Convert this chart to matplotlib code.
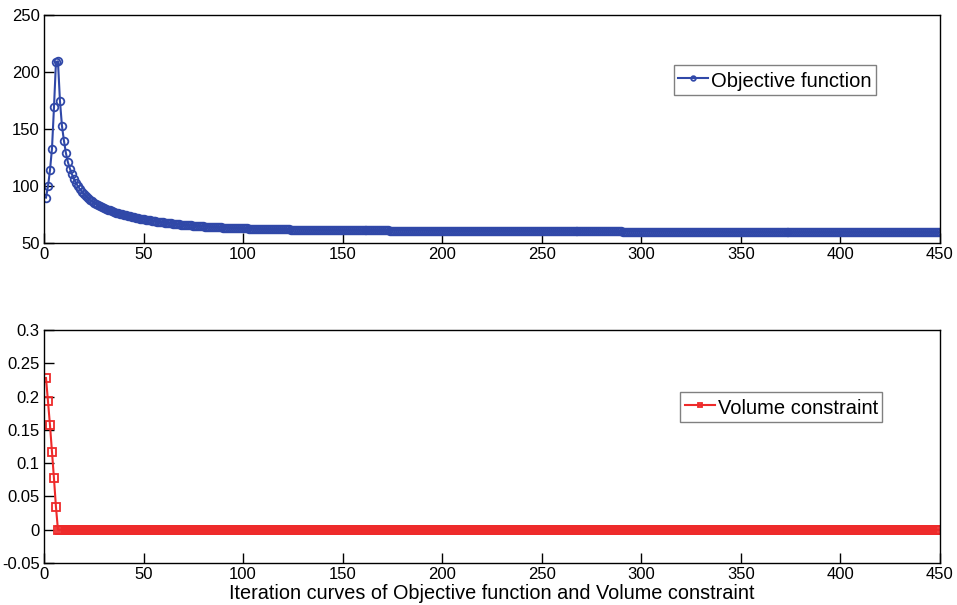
import matplotlib
matplotlib.use("Agg")
import matplotlib.pyplot as plt
import numpy as np

plt.rcParams['font.family'] = ['Liberation Sans', 'DejaVu Sans']

# Objective function value per iteration (1..450)
objective = [
    90.0, 100.0, 114.0, 133.0, 169.0, 209.0, 209.5, 175.0, 153.0, 140.0,
    129.0, 121.0, 115.5, 110.5, 106.5, 103.0, 100.0, 97.5, 95.0, 93.0,
    91.2, 89.6, 88.1, 86.8, 85.6, 84.5, 83.5, 82.6, 81.7, 80.9,
    80.1, 79.4, 78.7, 78.1, 77.5, 76.9, 76.4, 75.9, 75.4, 74.9,
    74.4, 74.0, 73.6, 73.2, 72.8, 72.4, 72.0, 71.6, 71.3, 71.0,
    70.7, 70.4, 70.1, 69.8, 69.5, 69.2, 69.0, 68.7, 68.5, 68.2,
    68.0, 67.8, 67.6, 67.4, 67.2, 67.0, 66.8, 66.6, 66.4, 66.2,
    66.0, 65.9, 65.7, 65.6, 65.4, 65.3, 65.1, 65.0, 64.9, 64.8,
    64.6, 64.5, 64.4, 64.3, 64.2, 64.1, 64.0, 63.9, 63.8, 63.7,
    63.6, 63.5, 63.5, 63.4, 63.3, 63.2, 63.2, 63.1, 63.0, 63.0,
    62.9, 62.9, 62.8, 62.8, 62.7, 62.7, 62.6, 62.6, 62.6, 62.5,
    62.5, 62.4, 62.4, 62.4, 62.3, 62.3, 62.3, 62.2, 62.2, 62.2,
    62.1, 62.1, 62.1, 62.0, 62.0, 62.0, 62.0, 61.9, 61.9, 61.9,
    61.9, 61.8, 61.8, 61.8, 61.8, 61.7, 61.7, 61.7, 61.7, 61.7,
    61.6, 61.6, 61.6, 61.6, 61.6, 61.6, 61.6, 61.6, 61.6, 61.6,
    61.5, 61.5, 61.5, 61.5, 61.5, 61.4, 61.4, 61.4, 61.4, 61.4,
    61.3, 61.3, 61.3, 61.3, 61.3, 61.3, 61.2, 61.2, 61.2, 61.2,
    61.2, 61.2, 61.2, 61.1, 61.1, 61.1, 61.1, 61.1, 61.1, 61.1,
    61.0, 61.0, 61.0, 61.0, 61.0, 61.0, 61.0, 61.0, 61.0, 61.0,
    61.0, 61.0, 60.9, 60.9, 60.9, 60.9, 60.9, 60.9, 60.9, 60.9,
    60.8, 60.8, 60.8, 60.8, 60.8, 60.8, 60.8, 60.8, 60.8, 60.8,
    60.8, 60.8, 60.8, 60.8, 60.8, 60.7, 60.7, 60.7, 60.7, 60.7,
    60.7, 60.7, 60.7, 60.7, 60.7, 60.7, 60.7, 60.7, 60.7, 60.7,
    60.6, 60.6, 60.6, 60.6, 60.6, 60.6, 60.6, 60.6, 60.6, 60.6,
    60.6, 60.6, 60.6, 60.6, 60.6, 60.5, 60.5, 60.5, 60.5, 60.5,
    60.5, 60.5, 60.5, 60.5, 60.5, 60.5, 60.5, 60.5, 60.5, 60.5,
    60.4, 60.4, 60.4, 60.4, 60.4, 60.4, 60.4, 60.4, 60.4, 60.4,
    60.4, 60.4, 60.4, 60.4, 60.4, 60.3, 60.3, 60.3, 60.3, 60.3,
    60.3, 60.3, 60.3, 60.3, 60.3, 60.3, 60.3, 60.3, 60.3, 60.3,
    60.2, 60.2, 60.2, 60.2, 60.2, 60.2, 60.2, 60.2, 60.2, 60.2,
    60.2, 60.2, 60.2, 60.2, 60.2, 60.1, 60.1, 60.1, 60.1, 60.1,
    60.1, 60.1, 60.1, 60.1, 60.1, 60.1, 60.1, 60.1, 60.1, 60.1,
    60.0, 60.0, 60.0, 60.0, 60.0, 60.0, 60.0, 60.0, 60.0, 60.0,
    60.0, 60.0, 60.0, 60.0, 60.0, 60.0, 60.0, 60.0, 60.0, 60.0,
    59.9, 59.9, 59.9, 59.9, 59.9, 59.9, 59.9, 59.9, 59.9, 59.9,
    59.9, 59.9, 59.9, 59.9, 59.9, 59.9, 59.9, 59.9, 59.9, 59.9,
    59.9, 59.9, 59.9, 59.9, 59.9, 59.8, 59.8, 59.8, 59.8, 59.8,
    59.8, 59.8, 59.8, 59.8, 59.8, 59.8, 59.8, 59.8, 59.8, 59.8,
    59.8, 59.8, 59.8, 59.8, 59.8, 59.8, 59.8, 59.8, 59.8, 59.8,
    59.7, 59.7, 59.7, 59.7, 59.7, 59.7, 59.7, 59.7, 59.7, 59.7,
    59.7, 59.7, 59.7, 59.7, 59.7, 59.7, 59.7, 59.7, 59.7, 59.7,
    59.7, 59.7, 59.7, 59.7, 59.7, 59.7, 59.7, 59.7, 59.7, 59.7,
    59.6, 59.6, 59.6, 59.6, 59.6, 59.6, 59.6, 59.6, 59.6, 59.6,
    59.6, 59.6, 59.6, 59.6, 59.6, 59.6, 59.6, 59.6, 59.6, 59.6,
    59.6, 59.6, 59.6, 59.6, 59.6, 59.6, 59.6, 59.6, 59.6, 59.6,
]

# Volume constraint value per iteration (1..450)
volume = [
    0.228, 0.193, 0.157, 0.117, 0.077, 0.034, 0, 0, 0, 0,
    0, 0, 0, 0, 0, 0, 0, 0, 0, 0, 0, 0, 0, 0, 0, 0, 0, 0, 0, 0,
    0, 0, 0, 0, 0, 0, 0, 0, 0, 0, 0, 0, 0, 0, 0, 0, 0, 0, 0, 0,
    0, 0, 0, 0, 0, 0, 0, 0, 0, 0, 0, 0, 0, 0, 0, 0, 0, 0, 0, 0,
    0, 0, 0, 0, 0, 0, 0, 0, 0, 0, 0, 0, 0, 0, 0, 0, 0, 0, 0, 0,
    0, 0, 0, 0, 0, 0, 0, 0, 0, 0, 0, 0, 0, 0, 0, 0, 0, 0, 0, 0,
    0, 0, 0, 0, 0, 0, 0, 0, 0, 0, 0, 0, 0, 0, 0, 0, 0, 0, 0, 0,
    0, 0, 0, 0, 0, 0, 0, 0, 0, 0, 0, 0, 0, 0, 0, 0, 0, 0, 0, 0,
    0, 0, 0, 0, 0, 0, 0, 0, 0, 0, 0, 0, 0, 0, 0, 0, 0, 0, 0, 0,
    0, 0, 0, 0, 0, 0, 0, 0, 0, 0, 0, 0, 0, 0, 0, 0, 0, 0, 0, 0,
    0, 0, 0, 0, 0, 0, 0, 0, 0, 0, 0, 0, 0, 0, 0, 0, 0, 0, 0, 0,
    0, 0, 0, 0, 0, 0, 0, 0, 0, 0, 0, 0, 0, 0, 0, 0, 0, 0, 0, 0,
    0, 0, 0, 0, 0, 0, 0, 0, 0, 0, 0, 0, 0, 0, 0, 0, 0, 0, 0, 0,
    0, 0, 0, 0, 0, 0, 0, 0, 0, 0, 0, 0, 0, 0, 0, 0, 0, 0, 0, 0,
    0, 0, 0, 0, 0, 0, 0, 0, 0, 0, 0, 0, 0, 0, 0, 0, 0, 0, 0, 0,
    0, 0, 0, 0, 0, 0, 0, 0, 0, 0, 0, 0, 0, 0, 0, 0, 0, 0, 0, 0,
    0, 0, 0, 0, 0, 0, 0, 0, 0, 0, 0, 0, 0, 0, 0, 0, 0, 0, 0, 0,
    0, 0, 0, 0, 0, 0, 0, 0, 0, 0, 0, 0, 0, 0, 0, 0, 0, 0, 0, 0,
    0, 0, 0, 0, 0, 0, 0, 0, 0, 0, 0, 0, 0, 0, 0, 0, 0, 0, 0, 0,
    0, 0, 0, 0, 0, 0, 0, 0, 0, 0, 0, 0, 0, 0, 0, 0, 0, 0, 0, 0,
    0, 0, 0, 0, 0, 0, 0, 0, 0, 0, 0, 0, 0, 0, 0, 0, 0, 0, 0, 0,
    0, 0, 0, 0, 0, 0, 0, 0, 0, 0, 0, 0, 0, 0, 0, 0, 0, 0, 0, 0,
    0, 0, 0, 0, 0, 0, 0, 0, 0, 0, 0, 0, 0, 0, 0, 0, 0, 0, 0, 0,
]

x_ticks = [0, 50, 100, 150, 200, 250, 300, 350, 400, 450]
top_y_ticks = [50, 100, 150, 200, 250]
bottom_y_ticks = [-0.05, 0, 0.05, 0.1, 0.15, 0.2, 0.25, 0.3]
bottom_y_labels = ['-0.05', '0', '0.05', '0.1', '0.15', '0.2', '0.25', '0.3']
legend_top = 'Objective function'
legend_bottom = 'Volume constraint'
xlabel_text = 'Iteration curves of Objective function and Volume constraint'

it_obj = np.arange(1, len(objective) + 1)
it_vol = np.arange(1, len(volume) + 1)

blue = '#3048A8'
red = '#EE2A2A'

fig = plt.figure(figsize=(9.57, 6.05), dpi=100)
ax1 = fig.add_axes([0.046, 0.598, 0.936, 0.377])
ax2 = fig.add_axes([0.046, 0.0694, 0.936, 0.385])

ax1.plot(it_obj, objective, color=blue, lw=1.5, marker='o', ms=5.5,
         mfc='none', mec=blue, mew=1.3, label=legend_top)
ax2.plot(it_vol, volume, color=red, lw=1.5, marker='s', ms=5.5,
         mfc='none', mec=red, mew=1.3, label=legend_bottom)

for ax in (ax1, ax2):
    ax.set_xlim(0, 450)
    ax.set_xticks(x_ticks)
    ax.tick_params(direction='in', length=7, width=1, labelsize=12,
                   top=False, right=False, pad=3)
    for s in ax.spines.values():
        s.set_linewidth(1.0)
        s.set_color('black')

ax1.set_ylim(50, 250)
ax1.set_yticks(top_y_ticks)
ax2.set_ylim(-0.05, 0.3)
ax2.set_yticks(bottom_y_ticks)
ax2.set_yticklabels(bottom_y_labels)

leg_kw = dict(fontsize=14.5, fancybox=False, edgecolor='#808080',
              framealpha=1, borderpad=0.22, handlelength=1.5,
              handleheight=1.25, handletextpad=0.15, borderaxespad=0,
              markerscale=0.6)
leg1 = ax1.legend(loc='upper right', bbox_to_anchor=(0.929, 0.781), **leg_kw)
leg1.get_frame().set_linewidth(1.0)
leg2 = ax2.legend(loc='upper right', bbox_to_anchor=(0.936, 0.734), **leg_kw)
leg2.get_frame().set_linewidth(1.0)

ax2.set_xlabel(xlabel_text, fontsize=14.3, labelpad=1)

fig.savefig('out.png', dpi=100)
